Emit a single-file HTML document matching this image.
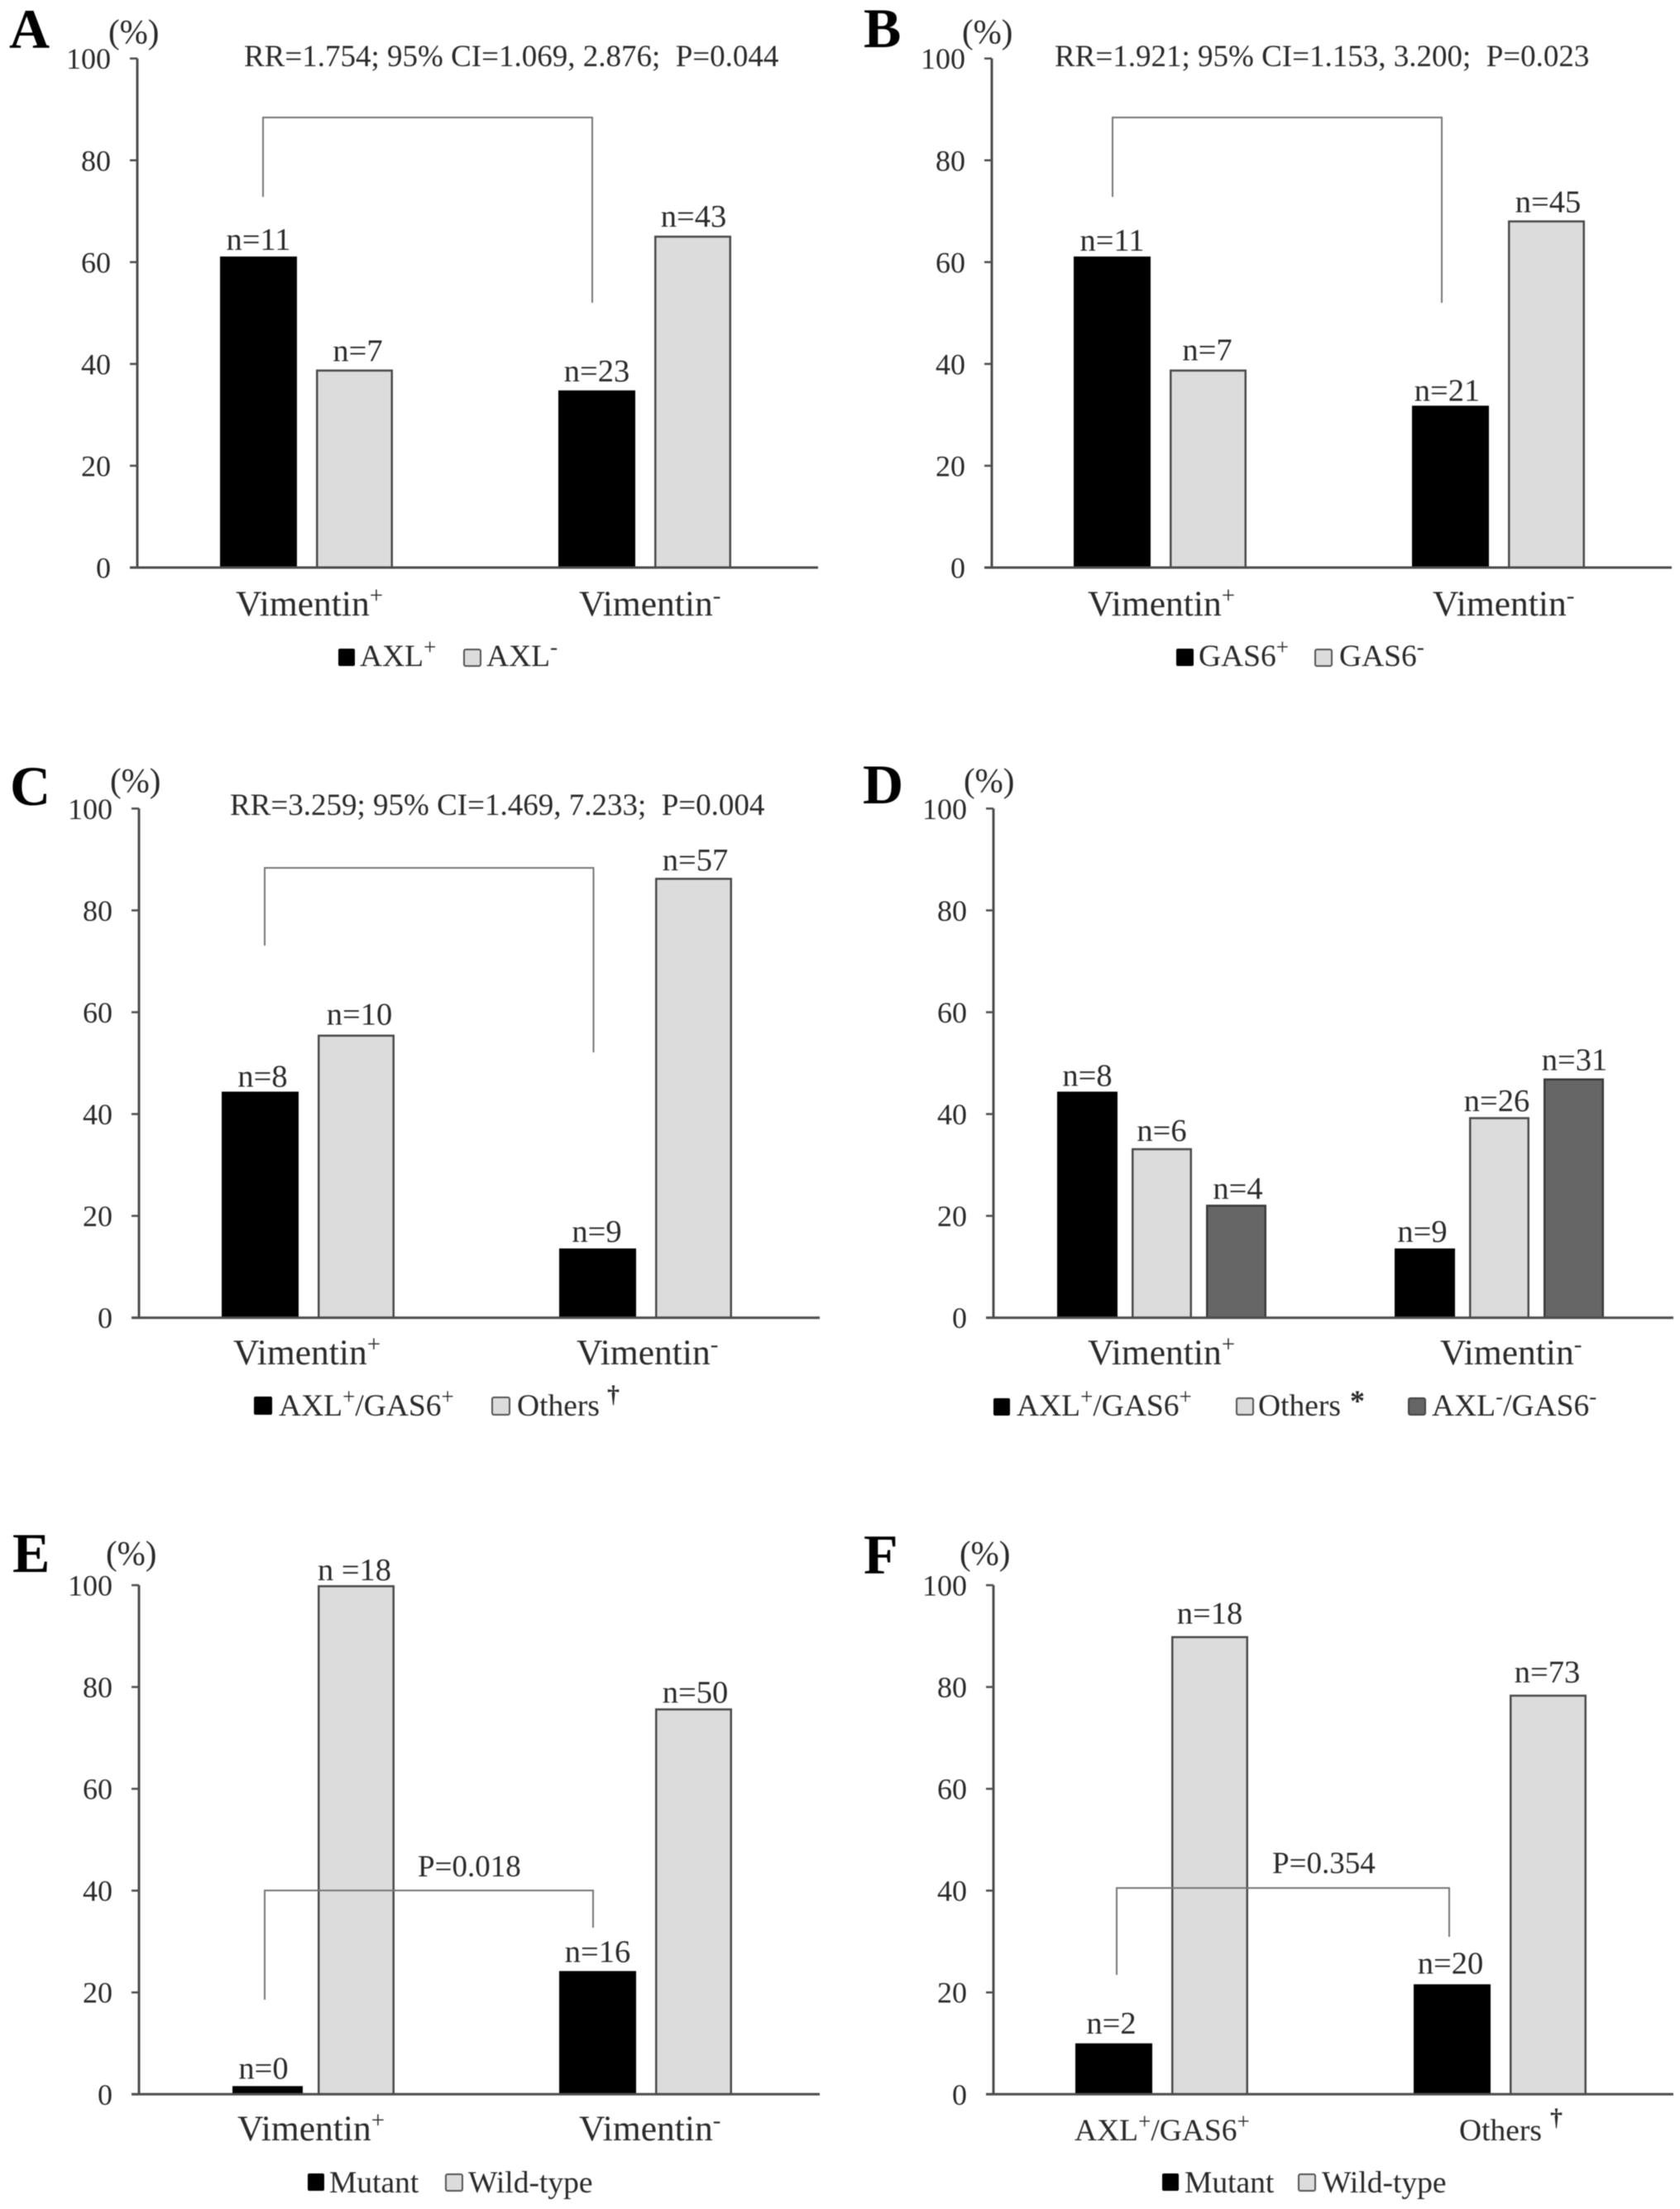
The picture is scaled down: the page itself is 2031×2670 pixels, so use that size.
<!DOCTYPE html>
<html lang="en">
<head>
<meta charset="utf-8">
<title>Vimentin, AXL and GAS6 bar charts</title>
<style>
html,body{margin:0;padding:0;background:#fff;width:2031px;height:2670px;overflow:hidden}
svg{display:block;filter:blur(0.6px)}
text{font-family:"Liberation Serif",serif;fill:#2a2a2a}
.letter{font-size:68px;font-weight:bold;fill:#000}
.unit{font-size:41px}
.stat{font-size:37px}
.cat{font-size:43.5px}
.cat .sup{font-size:29px}
.leg{font-size:37.5px}
.sup{font-size:27px}
.tick{font-size:36px;text-anchor:end}
.nlabel{font-size:38.5px;text-anchor:middle}
.br{fill:none;stroke:#777;stroke-width:2}
.sw-black{fill:#000}
.sw-gray{fill:#dcdcdc;stroke:#555;stroke-width:2}
.sw-dark{fill:#666;stroke:#444;stroke-width:2}
</style>
</head>
<body>
<svg id="chart" xmlns="http://www.w3.org/2000/svg" width="2031" height="2670" viewBox="0 0 2031 2670">
<rect width="2031" height="2670" fill="#fff"/>

<!-- Panel A -->
<g>
<text class="letter" x="11" y="58">A</text>
<text class="unit" x="131" y="52">(%)</text>
<text class="stat" x="295" y="80" xml:space="preserve">RR=1.754; 95% CI=1.069, 2.876;  P=0.044</text>
<path class="br" d="M318 238V142H716V366"/>
<text class="cat" x="285" y="744">Vimentin<tspan class="sup" dy="-15">+</tspan></text>
<text class="cat" x="700" y="744">Vimentin<tspan class="sup" dy="-15">-</tspan></text>
<rect class="sw-black" x="409" y="784" width="20" height="21" rx="2"/>
<text class="leg" x="435" y="805">AXL<tspan class="sup" dy="-14">+</tspan></text>
<rect class="sw-gray" x="561" y="785" width="20" height="20" rx="2"/>
<text class="leg" x="588" y="805">AXL<tspan class="sup" dy="-14">-</tspan></text>
</g>

<!-- Panel B -->
<g>
<text class="letter" x="1044" y="57">B</text>
<text class="unit" x="1163" y="52">(%)</text>
<text class="stat" x="1275" y="80" xml:space="preserve">RR=1.921; 95% CI=1.153, 3.200;  P=0.023</text>
<path class="br" d="M1345 238V142H1743V366"/>
<text class="cat" x="1315" y="744">Vimentin<tspan class="sup" dy="-15">+</tspan></text>
<text class="cat" x="1732" y="744">Vimentin<tspan class="sup" dy="-15">-</tspan></text>
<rect class="sw-black" x="1422" y="784" width="21" height="21" rx="2"/>
<text class="leg" x="1449" y="805">GAS6<tspan class="sup" dy="-14">+</tspan></text>
<rect class="sw-gray" x="1590" y="785" width="20" height="20" rx="2"/>
<text class="leg" x="1619" y="805">GAS6<tspan class="sup" dy="-14">-</tspan></text>
</g>

<!-- Panel C -->
<g>
<text class="letter" x="12" y="973">C</text>
<text class="unit" x="133" y="957">(%)</text>
<text class="stat" x="278" y="985" xml:space="preserve">RR=3.259; 95% CI=1.469, 7.233;  P=0.004</text>
<path class="br" d="M320 1143V1049H717.500V1272"/>
<text class="cat" x="282" y="1649">Vimentin<tspan class="sup" dy="-15">+</tspan></text>
<text class="cat" x="697" y="1649">Vimentin<tspan class="sup" dy="-15">-</tspan></text>
<rect class="sw-black" x="307" y="1688" width="22" height="22" rx="2"/>
<text class="leg" x="337" y="1711">AXL<tspan class="sup" dy="-14">+</tspan><tspan dy="14">/GAS6</tspan><tspan class="sup" dy="-14">+</tspan></text>
<rect class="sw-gray" x="595" y="1689" width="21" height="21" rx="2"/>
<text class="leg" x="625" y="1711">Others</text>
<text x="734" y="1695" font-size="30" font-weight="bold">†</text>
</g>

<!-- Panel D -->
<g>
<text class="letter" x="1043" y="971">D</text>
<text class="unit" x="1165" y="957">(%)</text>
<text class="cat" x="1315" y="1649">Vimentin<tspan class="sup" dy="-15">+</tspan></text>
<text class="cat" x="1741" y="1649">Vimentin<tspan class="sup" dy="-15">-</tspan></text>
<rect class="sw-black" x="1201" y="1690" width="20" height="21" rx="2"/>
<text class="leg" x="1229" y="1711">AXL<tspan class="sup" dy="-14">+</tspan><tspan dy="14">/GAS6</tspan><tspan class="sup" dy="-14">+</tspan></text>
<rect class="sw-gray" x="1495" y="1690" width="20" height="20" rx="2"/>
<text class="leg" x="1521" y="1711">Others</text>
<text x="1632" y="1705" font-size="36" font-weight="bold">*</text>
<rect class="sw-dark" x="1703" y="1690" width="20" height="20" rx="2"/>
<text class="leg" x="1731" y="1711">AXL<tspan class="sup" dy="-14">-</tspan><tspan dy="14">/GAS6</tspan><tspan class="sup" dy="-14">-</tspan></text>
</g>

<!-- Panel E -->
<g>
<text class="letter" x="15" y="1900">E</text>
<text class="unit" x="128" y="1891">(%)</text>
<text class="stat" x="505" y="2268">P=0.018</text>
<text class="cat" x="287" y="2587">Vimentin<tspan class="sup" dy="-15">+</tspan></text>
<text class="cat" x="700" y="2587">Vimentin<tspan class="sup" dy="-15">-</tspan></text>
<rect class="sw-black" x="372" y="2627" width="20" height="21" rx="2"/>
<text class="leg" x="398" y="2650">Mutant</text>
<rect class="sw-gray" x="539" y="2628" width="20" height="20" rx="2"/>
<text class="leg" x="566" y="2650">Wild-type</text>
</g>

<!-- Panel F -->
<g>
<text class="letter" x="1044" y="1902">F</text>
<text class="unit" x="1160" y="1891">(%)</text>
<text class="stat" x="1538" y="2264">P=0.354</text>
<text class="leg" x="1299" y="2587">AXL<tspan class="sup" dy="-14">+</tspan><tspan dy="14">/GAS6</tspan><tspan class="sup" dy="-14">+</tspan></text>
<text class="leg" x="1764" y="2587">Others</text>
<text x="1874" y="2569" font-size="30" font-weight="bold">†</text>
<rect class="sw-black" x="1405" y="2627" width="20" height="21" rx="2"/>
<text class="leg" x="1432" y="2650">Mutant</text>
<rect class="sw-gray" x="1570" y="2628" width="20" height="20" rx="2"/>
<text class="leg" x="1598" y="2650">Wild-type</text>
</g>

<g id="marks"></g>

<!-- Brackets of panels E and F run over the bars -->
<path class="br" d="M320 2417V2285H717V2330"/>
<path class="br" d="M1350 2387V2282H1752V2341"/>
</svg>

<script>
// Chart data: one inner array per series, one entry per category group
const tickValues = [0, 20, 40, 60, 80, 100];

const valuesA = [[61.1, 34.8], [38.9, 65.2]];
const countsA = [["n=11", "n=23"], ["n=7", "n=43"]];

const valuesB = [[61.1, 31.8], [38.9, 68.2]];
const countsB = [["n=11", "n=21"], ["n=7", "n=45"]];

const valuesC = [[44.4, 13.6], [55.6, 86.4]];
const countsC = [["n=8", "n=9"], ["n=10", "n=57"]];

const valuesD = [[44.4, 13.6], [33.3, 39.4], [22.2, 47.0]];
const countsD = [["n=8", "n=9"], ["n=6", "n=26"], ["n=4", "n=31"]];

const valuesE = [[1.6, 24.2], [100, 75.8]];
const countsE = [["n=0", "n=16"], ["n =18", "n=50"]];

const valuesF = [[10, 21.6], [90, 78.5]];
const countsF = [["n=2", "n=20"], ["n=18", "n=73"]];

// Layout of each panel, kept apart from the data
const panels = [
  {id:"a", values:valuesA, counts:countsA, axisX:166, y100:70.7, y0:686, endX:989, groups:[266,675], barW:93, step:116,
   dx:[[0,0],[4,1]], dy:[[8,11],[10,11]]},
  {id:"b", values:valuesB, counts:countsB, axisX:1199, y100:70.7, y0:686, endX:2021, groups:[1298,1707], barW:93, step:116,
   dx:[[0,-4],[-1,2]], dy:[[7,6],[11,10]]},
  {id:"c", values:valuesC, counts:countsC, axisX:168, y100:977.3, y0:1592.7, endX:991, groups:[268,676], barW:93, step:116,
   dx:[[3,-1],[4,2]], dy:[[6,8],[12,9]]},
  {id:"d", values:valuesD, counts:countsD, axisX:1201, y100:977.3, y0:1592.7, endX:2023, groups:[1278,1686], barW:73, step:90,
   dx:[[0,-3],[0,-3],[2,1]], dy:[[7,8],[9,7],[7,10]]},
  {id:"e", values:valuesE, counts:countsE, axisX:168, y100:1916, y0:2531.3, endX:991, groups:[268,676], barW:93, step:116,
   dx:[[-5,0],[-2,2]], dy:[[9,11],[6,7]], narrow:{series:0, group:0, x:281, w:85}},
  {id:"f", values:valuesF, counts:countsF, axisX:1201, y100:1916, y0:2531.3, endX:2023, groups:[1300,1709], barW:93, step:116,
   dx:[[-3,-2],[0,-1]], dy:[[12,13],[15,15]]}
];

const seriesFills = ["#000000", "#dcdcdc", "#666666"];
const seriesStrokes = ["none", "#4a4a4a", "#3a3a3a"];
const NS = "http://www.w3.org/2000/svg";
const marks = document.getElementById("marks");

function yScale(p, v) {
  return p.y0 - (v / 100) * (p.y0 - p.y100);
}
function xScale(p, series, group) {
  return p.groups[group] + series * p.step;
}

panels.forEach(function (p) {
  const g = document.createElementNS(NS, "g");
  
  
  marks.appendChild(g);

  // Bars
  p.values.forEach(function (seriesVals, s) {
    seriesVals.forEach(function (v, k) {
      let x = xScale(p, s, k);
      let w = p.barW;
      if (p.narrow && p.narrow.series === s && p.narrow.group === k) {
        x = p.narrow.x;
        w = p.narrow.w;
      }
      const top = yScale(p, v);
      const bar = document.createElementNS(NS, "rect");
      const inset = s === 0 ? 0 : 1.25;
      bar.setAttribute("x", x + inset);
      bar.setAttribute("y", top + inset);
      bar.setAttribute("width", w - 2 * inset);
      bar.setAttribute("height", p.y0 - top - inset);
      bar.setAttribute("fill", seriesFills[s]);
      bar.setAttribute("stroke", seriesStrokes[s]);
      bar.setAttribute("stroke-width", s === 0 ? 0 : 2.5);
      
      
      g.appendChild(bar);

      const lab = document.createElementNS(NS, "text");
      lab.setAttribute("class", "nlabel");
      lab.setAttribute("x", x + w / 2 + p.dx[s][k]);
      lab.setAttribute("y", top - p.dy[s][k]);
      
      
      lab.textContent = p.counts[s][k];
      g.appendChild(lab);
    });
  });

  // Y axis line
  const yAxis = document.createElementNS(NS, "line");
  yAxis.setAttribute("x1", p.axisX);
  yAxis.setAttribute("x2", p.axisX);
  yAxis.setAttribute("y1", yScale(p, 100));
  yAxis.setAttribute("y2", yScale(p, 0));
  yAxis.setAttribute("stroke", "#4d4d4d");
  yAxis.setAttribute("stroke-width", 3);
  
  
  g.appendChild(yAxis);

  // X axis line
  const xAxis = document.createElementNS(NS, "line");
  xAxis.setAttribute("x1", p.axisX - 9);
  xAxis.setAttribute("x2", p.endX);
  xAxis.setAttribute("y1", yScale(p, 0));
  xAxis.setAttribute("y2", yScale(p, 0));
  xAxis.setAttribute("stroke", "#4d4d4d");
  xAxis.setAttribute("stroke-width", 3);
  
  
  g.appendChild(xAxis);

  // Ticks and tick labels
  tickValues.forEach(function (t) {
    const y = yScale(p, t);
    const tick = document.createElementNS(NS, "line");
    tick.setAttribute("x1", p.axisX - 9);
    tick.setAttribute("x2", p.axisX);
    tick.setAttribute("y1", y);
    tick.setAttribute("y2", y);
    tick.setAttribute("stroke", "#4d4d4d");
    tick.setAttribute("stroke-width", 2.5);
    
    
    g.appendChild(tick);

    const label = document.createElementNS(NS, "text");
    label.setAttribute("class", "tick");
    label.setAttribute("x", p.axisX - 32);
    label.setAttribute("y", y + 12.5);
    
    
    label.textContent = t;
    g.appendChild(label);
  });
});
</script>
</body>
</html>
